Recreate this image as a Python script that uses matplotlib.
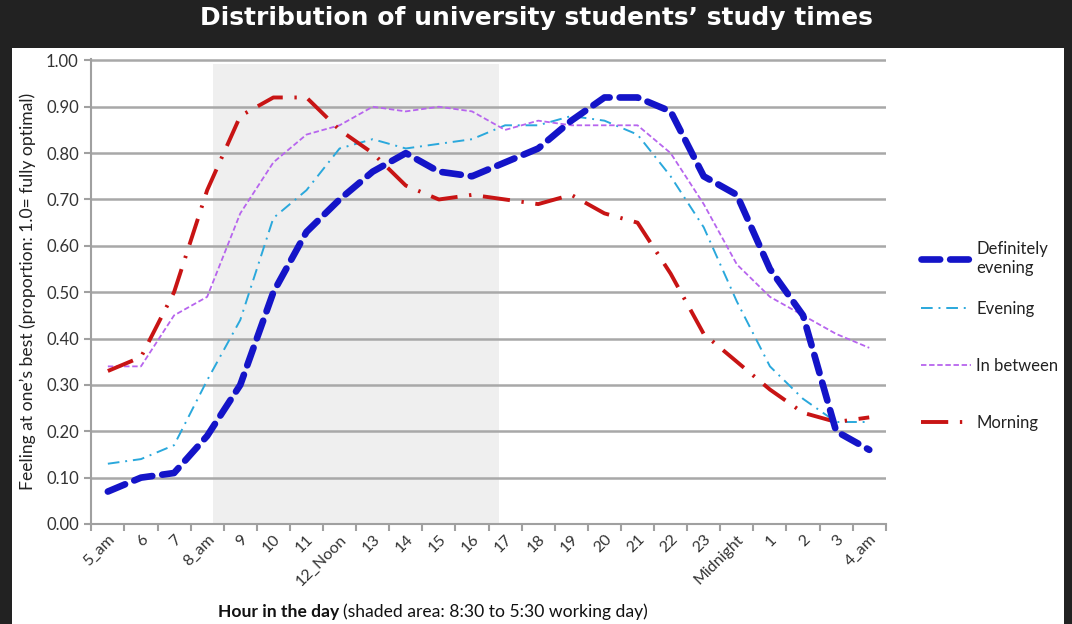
import matplotlib
matplotlib.use("Agg")
import matplotlib.pyplot as plt
from matplotlib.patches import Rectangle

hours = ["5_am", "6", "7", "8_am", "9", "10", "11", "12_Noon", "13", "14", "15", "16",
         "17", "18", "19", "20", "21", "22", "23", "Midnight", "1", "2", "3", "4_am"]

definitely_evening = [0.07, 0.10, 0.11, 0.19, 0.30, 0.50, 0.63, 0.70, 0.76, 0.80, 0.76, 0.75,
                      0.78, 0.81, 0.87, 0.92, 0.92, 0.89, 0.75, 0.71, 0.55, 0.45, 0.20, 0.16]
evening = [0.13, 0.14, 0.17, 0.31, 0.44, 0.66, 0.72, 0.81, 0.83, 0.81, 0.82, 0.83,
           0.86, 0.86, 0.88, 0.87, 0.84, 0.75, 0.64, 0.48, 0.34, 0.27, 0.22, 0.22]
in_between = [0.34, 0.34, 0.45, 0.49, 0.67, 0.78, 0.84, 0.86, 0.90, 0.89, 0.90, 0.89,
              0.85, 0.87, 0.86, 0.86, 0.86, 0.80, 0.69, 0.56, 0.49, 0.45, 0.41, 0.38]
morning = [0.33, 0.36, 0.50, 0.72, 0.88, 0.92, 0.92, 0.85, 0.80, 0.73, 0.70, 0.71,
           0.70, 0.69, 0.71, 0.67, 0.65, 0.54, 0.41, 0.35, 0.29, 0.24, 0.22, 0.23]

# working day shading, in category units (8:30 to 17:30)
shade_start, shade_end = 3.19, 11.83

plt.rcParams['font.family'] = ['Lato', 'DejaVu Sans']

fig = plt.figure(figsize=(10.72, 6.24), dpi=100)
fig.patch.set_facecolor('#222222')
fig.patches.append(Rectangle((12/1072, 0), (1064-12)/1072, (624-48)/624,
                             transform=fig.transFigure, facecolor='white',
                             edgecolor='none', zorder=-5))

fig.text(0.5, 1 - 18/624, "Distribution of university students\u2019 study times",
         color='white', fontsize=18, fontweight='bold', family=['DejaVu Sans'],
         ha='center', va='center')

ax = fig.add_axes([91.3/1072, 1 - 524/624, (885.8-91.3)/1072, (524-59)/624])
ax.set_facecolor('none')
x = list(range(len(hours)))

ax.axvspan(shade_start, shade_end, ymin=0, ymax=0.99, color='#efefef', lw=0, zorder=0)

l1, = ax.plot(x, definitely_evening, color='#1414c8', lw=4.8, dashes=(2.8, 1.5),
              dash_capstyle='round', label='Definitely\nevening', zorder=4)
l2, = ax.plot(x, evening, color='#2aa8dc', lw=1.4, dashes=(6, 3, 1, 3),
              label='Evening', zorder=3)
l3, = ax.plot(x, in_between, color='#b765ee', lw=1.3, dashes=(3, 1.5),
              label='In between', zorder=3)
l4, = ax.plot(x, morning, color='#c81414', lw=2.8, dashes=(7, 3, 0.6, 3),
              label='Morning', zorder=3)

ax.set_xlim(-0.5, len(hours) - 0.5)
ax.set_ylim(0, 1.003)
ax.set_yticks([i / 10 for i in range(11)])
ax.set_yticklabels([f"{i/10:.2f}" for i in range(11)], fontsize=12, color='#333333')
ax.yaxis.grid(True, color='#a8a8a8', lw=1.8)
ax.set_axisbelow(True)

ax.set_xticks([i - 0.5 for i in range(len(hours) + 1)])
ax.set_xticklabels([])
ax.set_xticks(x, minor=True)
ax.set_xticklabels(hours, minor=True, rotation=45, ha='right', rotation_mode='anchor',
                   fontsize=11.5, color='#333333')
ax.tick_params(axis='x', which='minor', length=0, pad=6)
ax.tick_params(axis='x', which='major', length=5, color='#a0a0a0', width=1.5)
ax.tick_params(axis='y', length=5, color='#a0a0a0', width=1.5, pad=4)

for s in ['top', 'right']:
    ax.spines[s].set_visible(False)
for s in ['left', 'bottom']:
    ax.spines[s].set_color('#a0a0a0')
    ax.spines[s].set_linewidth(1.5)

ax.set_ylabel("Feeling at one\u2019s best (proportion: 1.0= fully optimal)",
              fontsize=12.6, color='#222222')
ax.yaxis.set_label_coords(-0.069, 0.5)

leg_kw = dict(loc='upper left', bbox_transform=fig.transFigure, frameon=False,
              fontsize=12, handlelength=3.0, handletextpad=0.3, labelspacing=2.45,
              labelcolor='#222222')
leg1 = ax.legend(handles=[l1], bbox_to_anchor=(906/1072, 1 - 226/624), **leg_kw)
ax.add_artist(leg1)
ax.legend(handles=[l2, l3, l4], bbox_to_anchor=(906/1072, 1 - 286/624), **leg_kw)

fig.canvas.draw()
t1 = fig.text(218/1072, 1 - 612/624, "Hour in the day", fontsize=12.6,
              fontweight='bold', color='#111111', va='center', ha='left')
fig.canvas.draw()
bb = t1.get_window_extent()
fig.text(bb.x1/1072 + 4/1072, 1 - 612/624, "(shaded area: 8:30 to 5:30 working day)",
         fontsize=12.6, color='#111111', va='center', ha='left')

fig.savefig("out.png", dpi=100, facecolor=fig.get_facecolor())
